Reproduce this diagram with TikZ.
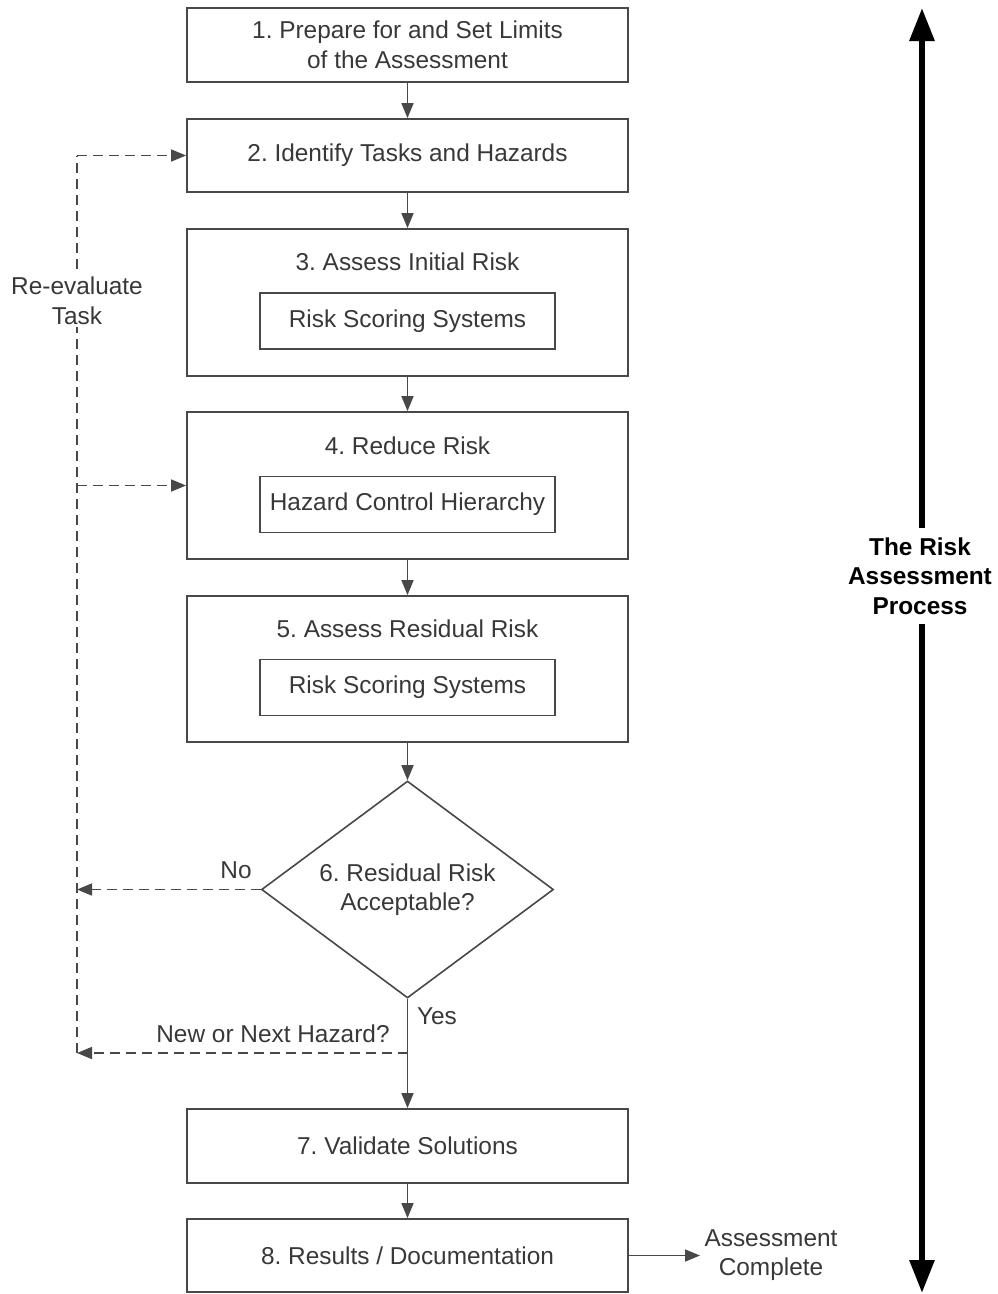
\documentclass[tikz,border=0pt]{standalone}
\usepackage{fontspec}
\setmainfont{Liberation Sans}
\usetikzlibrary{arrows.meta,shapes.geometric}
\definecolor{ln}{HTML}{484848}
\definecolor{tx}{HTML}{383838}
\frenchspacing
\begin{document}
\begin{tikzpicture}[x=1pt,y=-1pt,
  every node/.style={font=\fontsize{24.4}{29.5}\selectfont, text=tx},
  box/.style={draw=ln, line width=1.8pt, minimum width=441pt, inner sep=0pt, align=center},
  inbox/.style={draw=ln, line width=1.6pt, minimum width=295pt, minimum height=56pt, inner sep=0pt},
  conn/.style={draw=ln, line width=1.7pt, -{Triangle[length=15pt,width=12pt]}},
  dconn/.style={conn, dash pattern=on 10pt off 6pt},
  dline/.style={draw=ln, line width=1.7pt, dash pattern=on 10pt off 6pt},
  big/.style={draw=black, line width=6pt, {Triangle[length=33pt,width=24pt]}-{Triangle[length=33pt,width=24pt]}}]
\useasboundingbox (0,0) rectangle (997,1294);

\node[box, minimum height=74pt] (b1) at (407.5,45) {1. Prepare for and Set Limits\\of the Assessment};
\node[box, minimum height=73pt] (b2) at (407.5,155.5) {2. Identify Tasks and Hazards};
\node[box, minimum height=147pt] (b3) at (407.5,302.5) {};
\node (t3) at (407.5,262) {3. Assess Initial Risk};
\node[inbox] (i3) at (407.5,321) {Risk Scoring Systems};
\node[box, minimum height=147pt] (b4) at (407.5,485.5) {};
\node (t4) at (407.5,446) {4. Reduce Risk};
\node[inbox] (i4) at (407.5,504.5) {Hazard Control Hierarchy};
\node[box, minimum height=146pt] (b5) at (407.5,669) {};
\node (t5) at (407.5,629) {5. Assess Residual Risk};
\node[inbox] (i5) at (407.5,687.5) {Risk Scoring Systems};
\node[diamond, aspect=1.6, draw=ln, line width=1.6pt, minimum width=292pt, minimum height=217pt, inner sep=0pt, align=center] (d) at (407.5,889.5) {6. Residual Risk\\Acceptable?};
\node[box, minimum height=74pt] (b7) at (407.5,1146) {7. Validate Solutions};
\node[box, minimum height=73pt] (b8) at (407.5,1255.5) {8. Results / Documentation};

\draw[conn] (b1) -- (b2);
\draw[conn] (b2) -- (b3);
\draw[conn] (b3) -- (b4);
\draw[conn] (b4) -- (b5);
\draw[conn] (b5) -- (d);
\draw[conn] (d.south) -- (b7.north);
\draw[conn] (b7) -- (b8);

\coordinate (nh) at (407.5,1053);
\coordinate (lb) at (77,1053);
\coordinate (lt) at (77,155.5);
\coordinate (lm) at (77,485.5);
\coordinate (ln6) at (77,889.5);
\coordinate (ac) at (700,1255.5);

\draw[dline] (lb) -- (lt);
\draw[dconn] (lt) -- (b2.west);
\draw[dconn] (lm) -- (b4.west);
\draw[dconn] (d.west) -- (ln6);
\draw[dconn] (nh) -- (lb);
\draw[conn] (b8.east) -- (ac);

\node[fill=white, align=center, inner sep=2pt] (re) at (77,301) {Re-evaluate\\Task};
\node (no) at (236,870) {No};
\node (yes) at (437,1016) {Yes};
\node (nnh) at (273,1034) {New or Next Hazard?};
\node[align=center] (acl) at (771,1255) {Assessment\\Complete};

\coordinate (at) at (922,8);
\coordinate (ab) at (922,1293);
\draw[big] (at) -- (ab);
\node[fill=white, align=center, font=\fontsize{24.4}{29.5}\selectfont\bfseries, text=black, inner xsep=1pt, inner ysep=10pt] (rap) at (920,576) {The Risk\\Assessment\\Process};
\end{tikzpicture}
\end{document}
